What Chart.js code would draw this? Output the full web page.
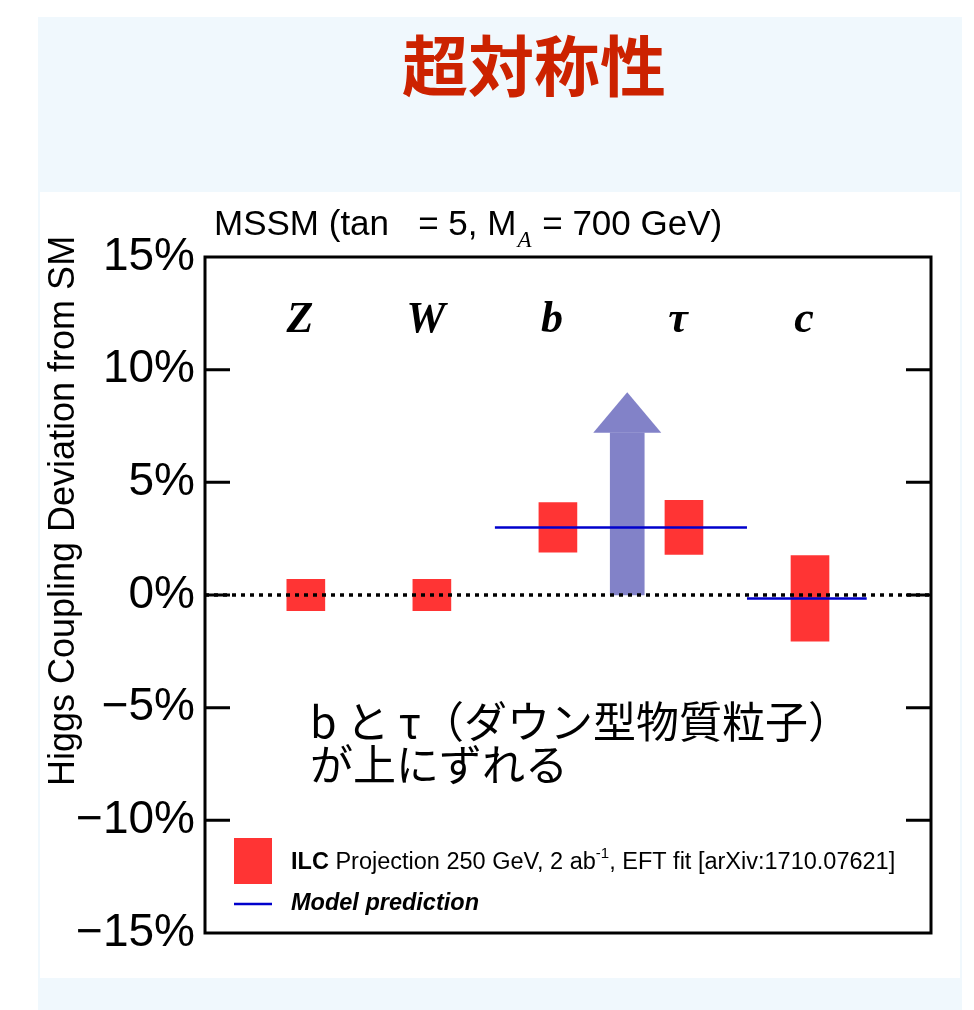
<!DOCTYPE html>
<html><head><meta charset="utf-8">
<script src="https://cdn.jsdelivr.net/npm/chart.js@4"></script>
<style>html,body{margin:0;padding:0;background:#fff;overflow:hidden}#wrap{width:974px;height:1010px;position:relative}</style>
</head><body><div id="wrap"><canvas id="c" width="974" height="1010"></canvas></div>
<script>
// ---- data ----
const categories = ['Z', 'W', 'b', 'τ', 'c'];
const categoryPos = [1, 2, 3, 4, 5];
const ilcLow = [-0.7, -0.7, 1.9, 1.8, -2.05];
const ilcHigh = [0.7, 0.7, 4.1, 4.2, 1.75];
const modelBTauX = [2.5, 4.5];
const modelBTauY = [3.0, 3.0];
const modelCX = [4.5, 5.45];
const modelCY = [-0.15, -0.15];
const arrowX = [3.55];
const arrowFrom = [0];
const arrowHeadBase = [7.2];
const arrowTip = [9.0];
const yTicks = [-15, -10, -5, 0, 5, 10, 15];
const yTickLabels = ['−15%', '−10%', '−5%', '0%', '5%', '10%', '15%'];
const xRange = [0.2, 5.96];
const zeroLineY = [0, 0];

const RED = 'rgb(255,52,52)';
const BLUE = '#0000cc';
const ARROW = '#8282c8';
const SANS = '"Liberation Sans", Arial, sans-serif';
const SERIF = '"Liberation Serif", "Times New Roman", serif';
const CJK = '"Noto Sans CJK JP", sans-serif';

const decor = {
  id: 'decor',
  beforeDraw(chart) {
    const ctx = chart.ctx;
    ctx.save();
    ctx.fillStyle = '#ffffff';
    ctx.fillRect(0, 0, 974, 1010);
    ctx.fillStyle = '#f0f8fd';
    ctx.fillRect(38, 17, 924, 993);
    ctx.fillStyle = '#ffffff';
    ctx.fillRect(40, 192, 920, 786);
    // main title
    ctx.fillStyle = '#cc2200';
    ctx.font = 'bold 66px ' + CJK;
    ctx.textAlign = 'center';
    ctx.textBaseline = 'middle';
    ctx.fillText('超対称性', 534, 66);
    ctx.restore();
  },
  afterDatasetsDraw(chart) {
    const ctx = chart.ctx;
    const xs = chart.scales.x, ys = chart.scales.y;
    const a = chart.chartArea;
    ctx.save();
    // arrow head
    const meta = chart.getDatasetMeta(1);
    meta.data.forEach((el, i) => {
      const cx = xs.getPixelForValue(arrowX[i]);
      const yb = ys.getPixelForValue(arrowHeadBase[i]);
      const yt = ys.getPixelForValue(arrowTip[i]);
      const half = el.width;
      ctx.fillStyle = ARROW;
      ctx.beginPath();
      ctx.moveTo(cx - half, yb);
      ctx.lineTo(cx, yt);
      ctx.lineTo(cx + half, yb);
      ctx.closePath();
      ctx.fill();
    });
    // frame
    ctx.strokeStyle = '#000';
    ctx.lineWidth = 3;
    ctx.strokeRect(a.left, a.top, a.right - a.left, a.bottom - a.top);
    // inward ticks
    yTicks.forEach(v => {
      if (v === yTicks[0] || v === yTicks[yTicks.length - 1]) return;
      const y = ys.getPixelForValue(v);
      ctx.beginPath();
      ctx.moveTo(a.left, y); ctx.lineTo(a.left + 25, y);
      ctx.moveTo(a.right, y); ctx.lineTo(a.right - 25, y);
      ctx.stroke();
    });
    // category labels
    ctx.fillStyle = '#000';
    ctx.font = 'italic bold 44px ' + SERIF;
    ctx.textAlign = 'center';
    ctx.textBaseline = 'alphabetic';
    const ly = ys.getPixelForValue(12.35);
    categories.forEach((c, i) => {
      ctx.fillText(c, xs.getPixelForValue(categoryPos[i]) - 6, ly + 15);
    });
    // y title
    ctx.save();
    ctx.translate(64, 511);
    ctx.rotate(-Math.PI / 2);
    ctx.font = '36px ' + SANS;
    ctx.textAlign = 'center';
    ctx.textBaseline = 'middle';
    ctx.fillText('Higgs Coupling Deviation from SM', 0, 0);
    ctx.restore();
    // top text
    ctx.textAlign = 'left';
    ctx.textBaseline = 'alphabetic';
    ctx.font = '35px ' + SANS;
    let x = 214;
    const t1 = 'MSSM (tan   = 5, M';
    ctx.fillText(t1, x, 235); x += ctx.measureText(t1).width;
    ctx.font = 'italic 23px ' + SERIF;
    ctx.fillText('A', x + 1, 247); x += ctx.measureText('A').width + 2;
    ctx.font = '35px ' + SANS;
    ctx.fillText(' = 700 GeV)', x, 235);
    // annotation
    ctx.font = '43px ' + CJK;
    ctx.fillText('b と τ（ダウン型物質粒子）', 310, 738);
    ctx.fillText('が上にずれる', 310, 781);
    // legend
    ctx.fillStyle = RED;
    ctx.fillRect(234, 838, 38, 46);
    ctx.strokeStyle = BLUE;
    ctx.lineWidth = 2.5;
    ctx.beginPath(); ctx.moveTo(234, 904); ctx.lineTo(272, 904); ctx.stroke();
    ctx.fillStyle = '#000';
    x = 291;
    const by = 869;
    ctx.font = 'bold 23.5px ' + SANS;
    ctx.fillText('ILC', x, by); x += ctx.measureText('ILC').width;
    ctx.font = '23.5px ' + SANS;
    const s1 = ' Projection 250 GeV, 2 ab';
    ctx.fillText(s1, x, by); x += ctx.measureText(s1).width;
    ctx.font = '15px ' + SANS;
    ctx.fillText('-1', x, by - 11); x += ctx.measureText('-1').width;
    ctx.font = '23.5px ' + SANS;
    ctx.fillText(', EFT fit [arXiv:1710.07621]', x, by);
    ctx.font = 'italic bold 23.5px ' + SANS;
    ctx.fillText('Model prediction', 291, 910);
    ctx.restore();
  }
};

const ctx = document.getElementById('c').getContext('2d');
new Chart(ctx, {
  type: 'bar',
  data: {
    datasets: [
      {
        type: 'bar', label: 'ILC', order: 2,
        data: categoryPos.map((p, i) => ({ x: p, y: [ilcLow[i], ilcHigh[i]] })),
        backgroundColor: RED, borderWidth: 0, barThickness: 38, grouped: false
      },
      {
        type: 'bar', label: 'shift', order: 3,
        data: arrowX.map((p, i) => ({ x: p, y: [arrowFrom[i], arrowHeadBase[i]] })),
        backgroundColor: ARROW, borderWidth: 0, barThickness: 34, grouped: false
      },
      {
        type: 'line', label: 'zero', order: 1,
        data: xRange.map((p, i) => ({ x: p, y: zeroLineY[i] })),
        borderColor: '#000', borderWidth: 3.5, borderDash: [4, 5], pointRadius: 0, fill: false
      },
      {
        type: 'line', label: 'Model prediction', order: 0,
        data: modelBTauX.map((p, i) => ({ x: p, y: modelBTauY[i] })),
        borderColor: BLUE, borderWidth: 2.5, pointRadius: 0, fill: false
      },
      {
        type: 'line', label: 'Model prediction c', order: 0,
        data: modelCX.map((p, i) => ({ x: p, y: modelCY[i] })),
        borderColor: BLUE, borderWidth: 2.5, pointRadius: 0, fill: false
      }
    ]
  },
  options: {
    responsive: false,
    animation: false,
    layout: { padding: { left: 0, top: 257, right: 43, bottom: 77 } },
    plugins: { legend: { display: false }, tooltip: { enabled: false }, title: { display: false } },
    scales: {
      x: { type: 'linear', min: xRange[0], max: xRange[1], display: false, offset: false },
      y: {
        type: 'linear', min: -15, max: 15,
        afterFit(s) { s.width = 205; },
        afterBuildTicks(s) { s.ticks = yTicks.map(v => ({ value: v })); },
        grid: { display: false, drawTicks: false },
        border: { display: false },
        ticks: {
          padding: 10, color: '#000',
          font: { family: SANS, size: 46 },
          callback: (v) => yTickLabels[yTicks.indexOf(v)]
        }
      }
    }
  },
  plugins: [decor]
});
</script>
</body></html>
